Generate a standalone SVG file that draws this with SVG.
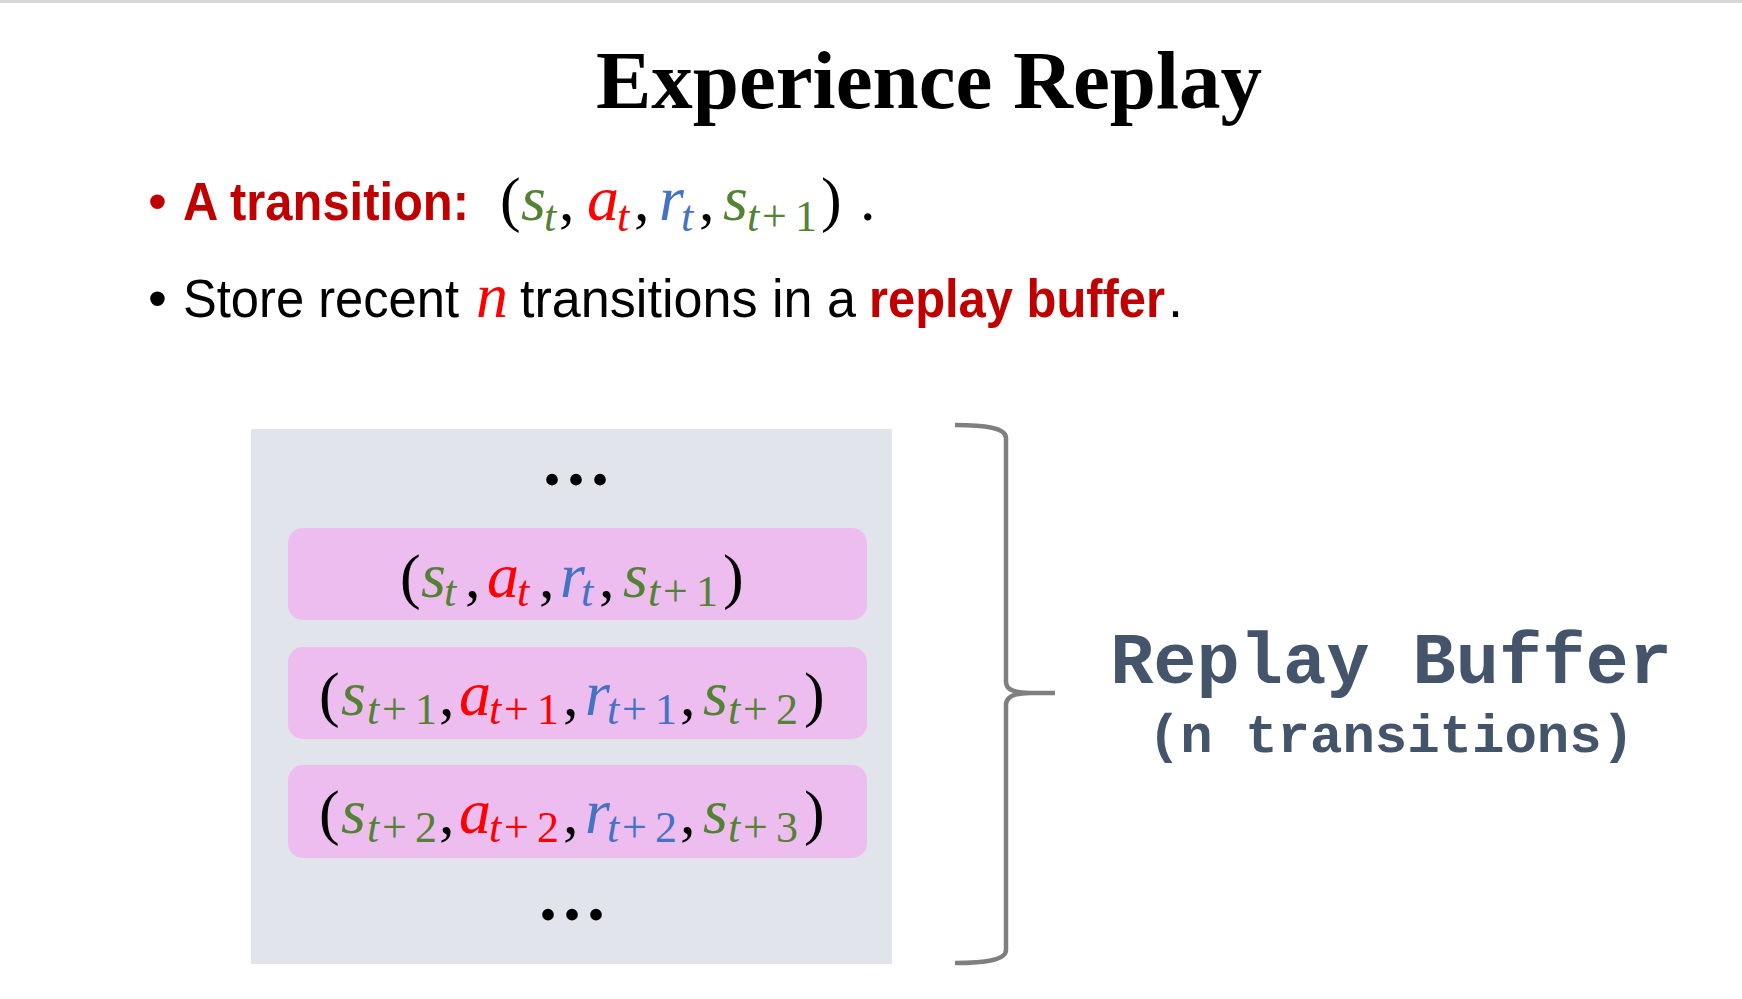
<svg xmlns="http://www.w3.org/2000/svg" width="1742" height="999" viewBox="0 0 1742 999">
<style>
.title{font-family:"Liberation Serif",serif;font-weight:bold;font-size:83px;fill:#000}
.txt{font-family:"Liberation Sans",Arial,sans-serif;font-size:54px;fill:#000}
.red{fill:#c00000}
.b{font-weight:bold}
.m{font-family:"Liberation Serif",serif;font-style:italic;font-size:64px}
.up{font-family:"Liberation Serif",serif;font-style:normal;font-size:62px;fill:#000}
.sub{font-family:"Liberation Serif",serif;font-style:italic;font-size:44px}
.subu{font-family:"Liberation Serif",serif;font-style:normal;font-size:44px}
.g{fill:#548235}
.a{fill:#ff0000}
.bl{fill:#4472c4}
.dots{font-family:"Liberation Serif",serif;font-weight:bold;font-size:72px;letter-spacing:6px;fill:#000}
.entry{fill:#eebdef}
.lbl{font-family:"Liberation Mono","Courier New",monospace;font-weight:bold;fill:#44546a;text-anchor:middle}
</style>
<rect x="0" y="0" width="1742" height="3" fill="#d6d6d6"/>
<g id="title"><text class="title" x="929" y="108" text-anchor="middle">Experience Replay</text></g>

<g id="bullet1">
<text class="txt red" x="148" y="220">•</text>
<text class="txt red b" x="183" y="220" textLength="286" lengthAdjust="spacingAndGlyphs">A transition:</text>
<text y="220">
<tspan class="up" x="500">(</tspan>
<tspan class="m g" x="521">s</tspan><tspan class="sub g" x="544" y="231">t</tspan>
<tspan class="up" x="559" y="220">,</tspan>
<tspan class="m a" x="587">a</tspan><tspan class="sub a" x="617" y="231">t</tspan>
<tspan class="up" x="634" y="220">,</tspan>
<tspan class="m bl" x="659">r</tspan><tspan class="sub bl" x="681" y="231">t</tspan>
<tspan class="up" x="699" y="220">,</tspan>
<tspan class="m g" x="723">s</tspan><tspan class="sub g" x="747" y="231">t</tspan><tspan class="subu g" x="762">+</tspan><tspan class="subu g" x="795">1</tspan>
<tspan class="up" x="821" y="220">)</tspan>
<tspan class="up" x="860">.</tspan>
</text>
</g>

<g id="bullet2">
<text class="txt" x="148" y="317">•</text>
<text class="txt" x="183" y="317" textLength="276" lengthAdjust="spacingAndGlyphs">Store recent</text>
<text class="m a" x="476" y="317">n</text>
<text class="txt" x="520" y="317" textLength="336" lengthAdjust="spacingAndGlyphs">transitions in a</text>
<text class="txt red b" x="869" y="317" textLength="296" lengthAdjust="spacingAndGlyphs">replay buffer</text>
<text class="txt" x="1168" y="317">.</text>
</g>

<g id="buffer">
<rect x="251" y="429" width="641" height="535" fill="#e1e4eb"/>
<text class="dots" x="543" y="485">...</text>
<text class="dots" x="539" y="920">...</text>
</g>

<g id="entry1">
<rect class="entry" x="288" y="528" width="579" height="92" rx="15"/>
<text y="597">
<tspan class="up" x="400">(</tspan>
<tspan class="m g" x="421">s</tspan><tspan class="sub g" x="444" y="606">t</tspan>
<tspan class="up" x="465" y="597">,</tspan>
<tspan class="m a" x="487">a</tspan><tspan class="sub a" x="517" y="606">t</tspan>
<tspan class="up" x="539" y="597">,</tspan>
<tspan class="m bl" x="560">r</tspan><tspan class="sub bl" x="581" y="606">t</tspan>
<tspan class="up" x="599" y="597">,</tspan>
<tspan class="m g" x="623">s</tspan><tspan class="sub g" x="648" y="606">t</tspan><tspan class="subu g" x="663">+</tspan><tspan class="subu g" x="696">1</tspan>
<tspan class="up" x="723" y="597">)</tspan>
</text>
</g>

<g id="entry2">
<rect class="entry" x="288" y="647" width="579" height="92" rx="15"/>
<text y="715">
<tspan class="up" x="319">(</tspan>
<tspan class="m g" x="341">s</tspan><tspan class="sub g" x="367" y="724">t</tspan><tspan class="subu g" x="382">+</tspan><tspan class="subu g" x="415">1</tspan>
<tspan class="up" x="439" y="715">,</tspan>
<tspan class="m a" x="459">a</tspan><tspan class="sub a" x="489" y="724">t</tspan><tspan class="subu a" x="504">+</tspan><tspan class="subu a" x="537">1</tspan>
<tspan class="up" x="563" y="715">,</tspan>
<tspan class="m bl" x="585">r</tspan><tspan class="sub bl" x="607" y="724">t</tspan><tspan class="subu bl" x="622">+</tspan><tspan class="subu bl" x="655">1</tspan>
<tspan class="up" x="680" y="715">,</tspan>
<tspan class="m g" x="703">s</tspan><tspan class="sub g" x="728" y="724">t</tspan><tspan class="subu g" x="743">+</tspan><tspan class="subu g" x="776">2</tspan>
<tspan class="up" x="804" y="715">)</tspan>
</text>
</g>

<g id="entry3">
<rect class="entry" x="288" y="765" width="579" height="93" rx="15"/>
<text y="833">
<tspan class="up" x="319">(</tspan>
<tspan class="m g" x="341">s</tspan><tspan class="sub g" x="367" y="842">t</tspan><tspan class="subu g" x="382">+</tspan><tspan class="subu g" x="415">2</tspan>
<tspan class="up" x="439" y="833">,</tspan>
<tspan class="m a" x="459">a</tspan><tspan class="sub a" x="489" y="842">t</tspan><tspan class="subu a" x="504">+</tspan><tspan class="subu a" x="537">2</tspan>
<tspan class="up" x="563" y="833">,</tspan>
<tspan class="m bl" x="585">r</tspan><tspan class="sub bl" x="607" y="842">t</tspan><tspan class="subu bl" x="622">+</tspan><tspan class="subu bl" x="655">2</tspan>
<tspan class="up" x="680" y="833">,</tspan>
<tspan class="m g" x="703">s</tspan><tspan class="sub g" x="728" y="842">t</tspan><tspan class="subu g" x="743">+</tspan><tspan class="subu g" x="776">3</tspan>
<tspan class="up" x="804" y="833">)</tspan>
</text>
</g>

<g id="brace">
<path d="M955,425 C985,425 1006,428 1006,438 L1006,682 C1006,690 1015,693 1030,693 L1055,693 M1030,693 C1015,693 1006,697 1006,705 L1006,950 C1006,960 985,963 955,963" fill="none" stroke="#7f7f7f" stroke-width="4.5"/>
</g>

<g id="label">
<text class="lbl" x="1391" y="683" font-size="72">Replay Buffer</text>
<text class="lbl" x="1391" y="752" font-size="54">(n transitions)</text>
</g>
</svg>
